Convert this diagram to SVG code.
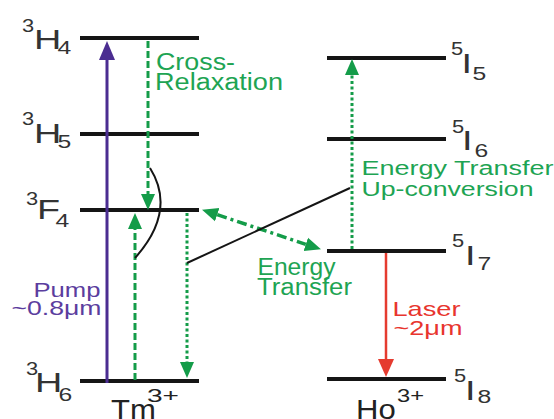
<svg xmlns="http://www.w3.org/2000/svg" width="554" height="419" viewBox="0 0 554 419">
<style>
text{font-family:"Liberation Sans",Arial,Helvetica,sans-serif}
.lvl{stroke:#151515;stroke-width:4;fill:none}
.lbl{fill:#333}
.big{font-size:27px}
.sm{font-size:19px}
.gt{fill:#1ea453;font-size:23px}
.gt2{fill:#1ea453;font-size:19.5px}
.pt{fill:#5b3d9e;font-size:21px}
.rt{fill:#e8352e;font-size:21px}
.ion{fill:#222}
.gd{stroke:#149c49;stroke-width:3;fill:none;stroke-dasharray:7 3}
.gdot{stroke:#149c49;stroke-width:3;fill:none;stroke-dasharray:3 2.5}
.gdd{stroke:#149c49;stroke-width:3.5;fill:none;stroke-dasharray:10 4 3 4}
.blk{stroke:#151515;stroke-width:2;fill:none}
</style>
<defs>
<marker id="hg" markerUnits="userSpaceOnUse" viewBox="0 -8 17 16" markerWidth="17" markerHeight="16" refX="0" refY="0" orient="auto-start-reverse"><path d="M0,-7 L16,0 L0,7Z" fill="#149c49"/></marker>
<marker id="hp" markerUnits="userSpaceOnUse" viewBox="0 -9 20 18" markerWidth="20" markerHeight="18" refX="0" refY="0" orient="auto"><path d="M0,-8 L19,0 L0,8Z" fill="#4b2d91"/></marker>
<marker id="hr" markerUnits="userSpaceOnUse" viewBox="0 -9 19 18" markerWidth="19" markerHeight="18" refX="0" refY="0" orient="auto"><path d="M0,-8 L18,0 L0,8Z" fill="#e53b2f"/></marker>
</defs>

<g id="tm-3H4">
<line class="lvl" x1="80" y1="38" x2="199" y2="38"/>
<text class="lbl sm" transform="translate(22,32) scale(1.15,1)">3</text>
<text class="lbl big" transform="translate(34,49) scale(1.4,1)">H</text>
<text class="lbl sm" transform="translate(57.5,54) scale(1.3,1)">4</text>
</g>
<g id="tm-3H5">
<line class="lvl" x1="80" y1="134" x2="199" y2="134"/>
<text class="lbl sm" transform="translate(22,125) scale(1.15,1)">3</text>
<text class="lbl big" transform="translate(34,143) scale(1.4,1)">H</text>
<text class="lbl sm" transform="translate(57.5,148) scale(1.3,1)">5</text>
</g>
<g id="tm-3F4">
<line class="lvl" x1="80" y1="210" x2="199" y2="210"/>
<text class="lbl sm" transform="translate(26,205) scale(1.15,1)">3</text>
<text class="lbl big" transform="translate(37,219) scale(1.4,1)">F</text>
<text class="lbl sm" transform="translate(55.5,227) scale(1.3,1)">4</text>
</g>
<g id="tm-3H6">
<line class="lvl" x1="80" y1="381" x2="199" y2="381"/>
<text class="lbl sm" transform="translate(26,375) scale(1.15,1)">3</text>
<text class="lbl big" transform="translate(35,392) scale(1.4,1)">H</text>
<text class="lbl sm" transform="translate(58.5,401) scale(1.3,1)">6</text>
</g>
<g id="tm-ion">
<text class="ion big" transform="translate(111,419) scale(1.15,1)">Tm</text>
<text class="ion sm" x="147" y="402" textLength="32" lengthAdjust="spacingAndGlyphs">3+</text>
</g>

<g id="ho-5I5">
<line class="lvl" x1="327" y1="58" x2="446" y2="58"/>
<text class="lbl sm" transform="translate(451,55) scale(1.15,1)">5</text>
<text class="lbl big" transform="translate(461.5,73) scale(1.4,1)">I</text>
<text class="lbl sm" transform="translate(472.5,80) scale(1.3,1)">5</text>
</g>
<g id="ho-5I6">
<line class="lvl" x1="327" y1="139" x2="446" y2="139"/>
<text class="lbl sm" transform="translate(452,133) scale(1.15,1)">5</text>
<text class="lbl big" transform="translate(462,150) scale(1.4,1)">I</text>
<text class="lbl sm" transform="translate(474.5,157) scale(1.3,1)">6</text>
</g>
<g id="ho-5I7">
<line class="lvl" x1="327" y1="251" x2="446" y2="251"/>
<text class="lbl sm" transform="translate(452,247) scale(1.15,1)">5</text>
<text class="lbl big" transform="translate(465,265) scale(1.4,1)">I</text>
<text class="lbl sm" transform="translate(477.5,270) scale(1.3,1)">7</text>
</g>
<g id="ho-5I8">
<line class="lvl" x1="327" y1="379" x2="446" y2="379"/>
<text class="lbl sm" transform="translate(454,382) scale(1.15,1)">5</text>
<text class="lbl big" transform="translate(465,400) scale(1.4,1)">I</text>
<text class="lbl sm" transform="translate(477.5,403) scale(1.3,1)">8</text>
</g>
<g id="ho-ion">
<text class="ion big" transform="translate(356,419) scale(1.15,1)">Ho</text>
<text class="ion sm" x="397" y="402" textLength="27" lengthAdjust="spacingAndGlyphs">3+</text>
</g>

<g id="connectors">
<line x1="107" y1="383" x2="107" y2="60" stroke="#4b2d91" stroke-width="3" marker-end="url(#hp)"/>
<line class="gd" x1="148" y1="41" x2="148" y2="194" marker-end="url(#hg)"/>
<line class="gd" x1="135" y1="380" x2="135" y2="229" marker-end="url(#hg)"/>
<line class="gdot" x1="187" y1="213" x2="187" y2="362" marker-end="url(#hg)"/>
<line class="gdot" x1="352" y1="249" x2="352" y2="75" marker-end="url(#hg)"/>
<line x1="386" y1="253" x2="386" y2="359" stroke="#e53b2f" stroke-width="2.5" marker-end="url(#hr)"/>
<line class="gdd" x1="217.2" y1="214.7" x2="305.8" y2="244.3" marker-start="url(#hg)" marker-end="url(#hg)"/>
<path class="blk" d="M150,168 Q177,211 135,258"/>
<line class="blk" x1="187" y1="263" x2="350" y2="188"/>
</g>

<g id="labels">
<text class="gt" x="156" y="70" textLength="79" lengthAdjust="spacingAndGlyphs">Cross-</text>
<text class="gt" x="155" y="90" textLength="128" lengthAdjust="spacingAndGlyphs">Relaxation</text>
<text class="gt" x="257.5" y="275" textLength="78" lengthAdjust="spacingAndGlyphs">Energy</text>
<text class="gt" x="257" y="295" textLength="95" lengthAdjust="spacingAndGlyphs">Transfer</text>
<text class="gt2" x="361.5" y="175" textLength="192" lengthAdjust="spacingAndGlyphs">Energy Transfer</text>
<text class="gt2" x="361.5" y="196" textLength="172" lengthAdjust="spacingAndGlyphs">Up-conversion</text>
<text class="pt" x="33.5" y="297" textLength="67" lengthAdjust="spacingAndGlyphs">Pump</text>
<text class="pt" x="11.5" y="315" textLength="90" lengthAdjust="spacingAndGlyphs">~0.8μm</text>
<text class="rt" x="392.5" y="316" textLength="68" lengthAdjust="spacingAndGlyphs">Laser</text>
<text class="rt" x="393.5" y="335" textLength="69" lengthAdjust="spacingAndGlyphs">~2μm</text>
</g>
</svg>
